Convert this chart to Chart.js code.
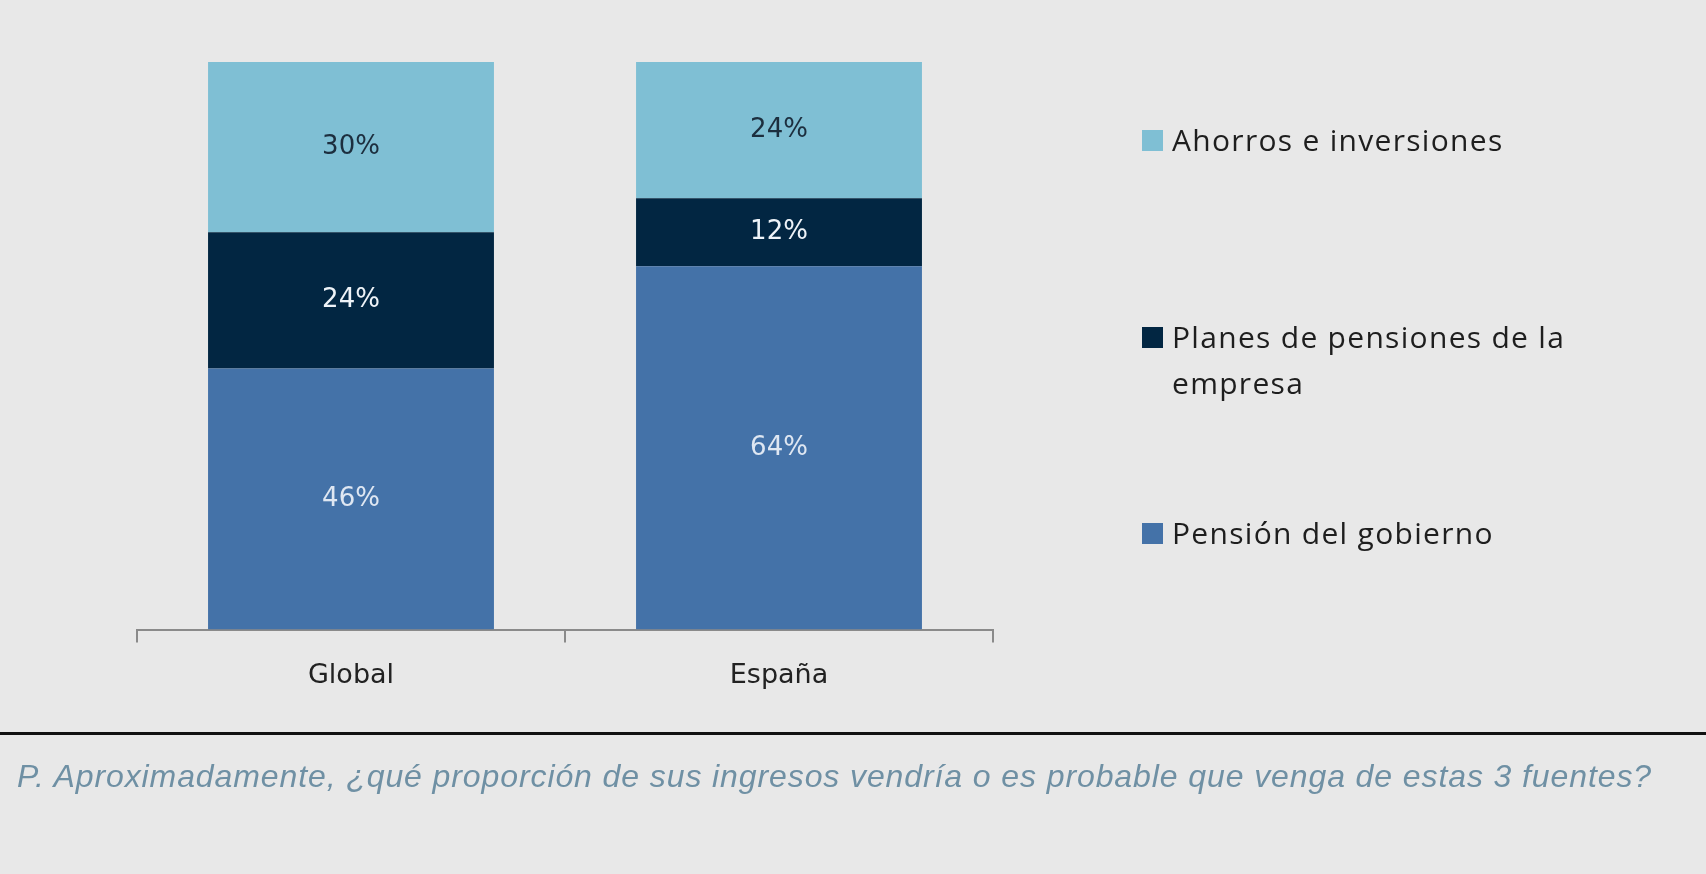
<!DOCTYPE html>
<html>
<head>
<meta charset="utf-8">
<script src="https://cdn.jsdelivr.net/npm/chart.js@4.4.1/dist/chart.umd.min.js"></script>
<style>
  html, body { margin: 0; padding: 0; background: #e8e8e8; width: 1706px; height: 874px; overflow: hidden; }
  #wrap { position: absolute; left: 0; top: 0; width: 1706px; height: 874px; }
  #legend { position: absolute; left: 1142px; top: 0; font-family: "Open Sans", sans-serif; font-size: 30px; letter-spacing: 1.3px; color: #1e1e1e; }
  .item { position: absolute; left: 0; width: 480px; display: flex; align-items: flex-start; line-height: 46px; }
  .sw { width: 21px; height: 21px; margin-top: 13px; margin-right: 9px; flex: none; }
  #rule { position: absolute; left: 0; top: 732px; width: 1706px; height: 0; border-top: 3px solid #111; }
  #caption { position: absolute; left: 17px; top: 758px; font-family: "Liberation Sans", Arial, sans-serif; font-style: italic; font-size: 32px; letter-spacing: 0.9px; color: #6f90a4; white-space: nowrap; }
</style>
</head>
<body>
<div id="wrap"><canvas id="c"></canvas></div>
<div id="legend"></div>
<div id="rule"></div>
<div id="caption">P. Aproximadamente, ¿qué proporción de sus ingresos vendría o es probable que venga de estas 3 fuentes?</div>
<script>
const categories = ['Global', 'España'];
const seriesNames = ['Pensión del gobierno', 'Planes de pensiones de la empresa', 'Ahorros e inversiones'];
const pensionGobierno = [46, 64];
const planesEmpresa = [24, 12];
const ahorrosInversiones = [30, 24];
const seriesColors = ['#4472a8', '#022642', '#7fbfd4'];
const labelColors = ['#dfe7f2', '#eef3f8', '#1c2e3e'];
const legendTops = [117, 314, 510];

const seriesValues = [pensionGobierno, planesEmpresa, ahorrosInversiones];

const datasets = seriesNames.map((name, i) => ({
  label: name,
  data: seriesValues[i],
  backgroundColor: seriesColors[i],
  borderWidth: 0,
  categoryPercentage: 1.0,
  barPercentage: 0.668
}));

const valueLabels = {
  id: 'valueLabels',
  afterDatasetsDraw(chart) {
    const ctx = chart.ctx;
    ctx.save();
    ctx.font = '26px "DejaVu Sans", sans-serif';
    ctx.textAlign = 'center';
    ctx.textBaseline = 'middle';
    chart.data.datasets.forEach((ds, i) => {
      const meta = chart.getDatasetMeta(i);
      meta.data.forEach((bar, j) => {
        const p = bar.getProps(['x', 'y', 'base'], true);
        ctx.fillStyle = labelColors[i];
        ctx.fillText(ds.data[j] + '%', p.x, (p.y + p.base) / 2);
      });
    });
    ctx.restore();
  }
};

new Chart(document.getElementById('c'), {
  type: 'bar',
  data: { labels: categories, datasets: datasets },
  options: {
    responsive: true,
    maintainAspectRatio: false,
    animation: false,
    layout: { padding: { left: 137, right: 713, top: 62, bottom: 165 } },
    plugins: { legend: { display: false }, tooltip: { enabled: false } },
    scales: {
      x: {
        stacked: true,
        grid: { offset: true, drawOnChartArea: false, drawTicks: true, tickLength: 13, color: '#8a8a8a', lineWidth: 2 },
        border: { display: true, color: '#8a8a8a', width: 2 },
        ticks: { color: '#222', font: { family: '"DejaVu Sans", sans-serif', size: 27 }, padding: 17 }
      },
      y: {
        stacked: true,
        display: false,
        min: 0,
        max: 100
      }
    }
  },
  plugins: [valueLabels]
});

// HTML legend built from the series arrays (top item = top of stack)
const legend = document.getElementById('legend');
[2, 1, 0].forEach((si, k) => {
  const item = document.createElement('div');
  item.className = 'item';
  item.style.top = legendTops[k] + 'px';
  const sw = document.createElement('span');
  sw.className = 'sw';
  sw.style.background = seriesColors[si];
  const tx = document.createElement('span');
  tx.textContent = seriesNames[si];
  item.appendChild(sw);
  item.appendChild(tx);
  legend.appendChild(item);
});
</script>
</body>
</html>
